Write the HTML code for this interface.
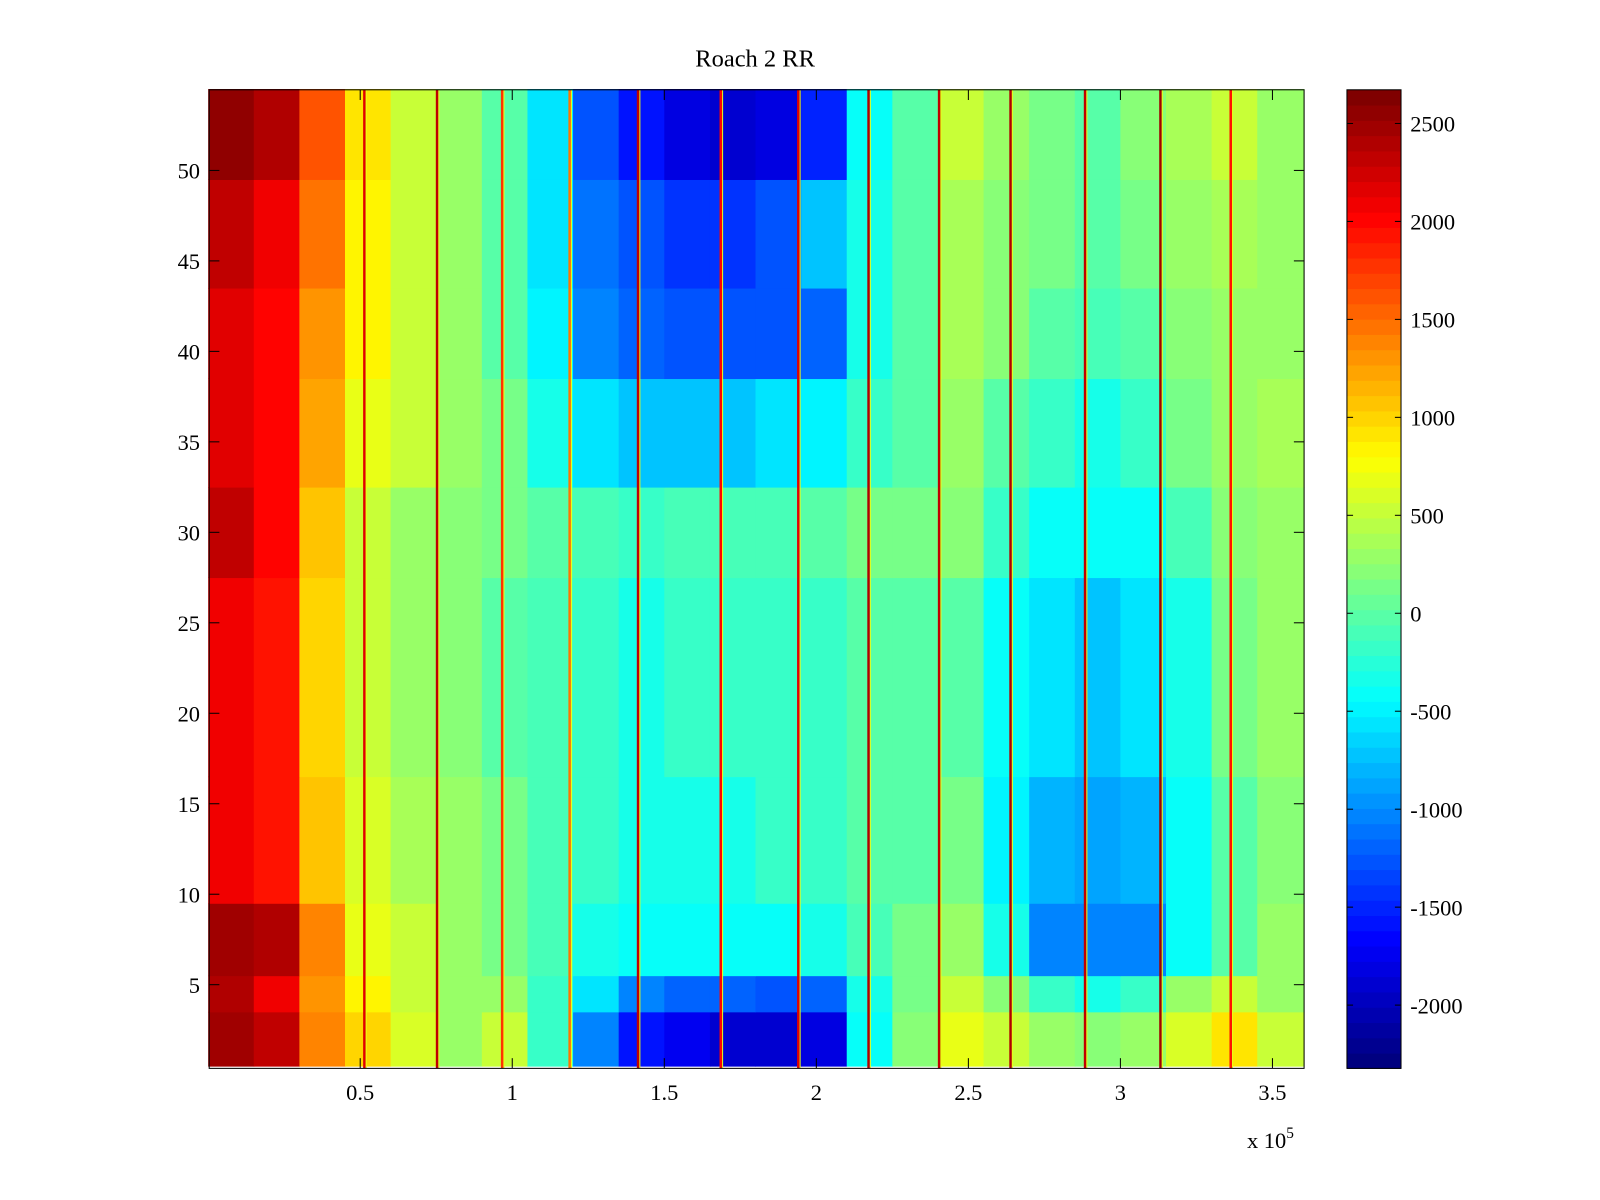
<!DOCTYPE html>
<html><head><meta charset="utf-8"><style>
body{margin:0;background:#fff;}
svg{display:block;}
svg text{font-family:"Liberation Serif",serif;fill:#000;}
</style></head><body>
<svg id="chart" width="1600" height="1200" viewBox="0 0 1568 1176" xmlns="http://www.w3.org/2000/svg">
<text x="740" y="65" font-size="24" text-anchor="middle">Roach 2 RR</text>
<g id="cells"></g>
<g id="streaks"></g>
<rect x="205" y="88" width="1073" height="959" fill="none" stroke="#000" stroke-width="1"/>
<g id="axes"></g>
<g id="cbar"></g>
<text x="1222" y="1125" font-size="22">x 10<tspan dy="-10" font-size="15">5</tspan></text>
</svg>
<script>
// x bins in units of 1e4 (bin edges)
const binEdges=[0,1.5,3,4.5,6,7.5,9,10.5,12,13.5,15,16.5,18,19.5,21,22.5,24,25.5,27,28.5,30,31.5,33,34.5,36.04];
// row groups [firstRow,lastRow]
const rowGroups=[[1,3],[4,5],[6,9],[10,16],[17,27],[28,32],[33,38],[39,43],[44,49],[50,54]];
const g0=[2500,2300,1400,1000,600,300,500,-200,-1000,-1600,-1700,-1900,-1900,-1800,-400,200,700,500,300,200,300,600,900,500];
const g1=[2400,2100,1300,800,500,300,300,-200,-600,-1000,-1200,-1200,-1300,-1200,-300,100,500,200,-200,-300,-200,300,500,300];
const g2=[2500,2400,1400,700,500,300,100,-100,-300,-400,-400,-400,-400,-300,-100,100,300,-300,-1000,-1000,-1000,-400,0,300];
const g3=[2100,1900,1100,600,400,300,100,-100,-200,-300,-300,-300,-200,-200,0,0,100,-500,-800,-900,-800,-400,0,200];
const g4=[2100,1900,1000,500,300,200,0,-100,-200,-300,-200,-200,-200,-200,0,0,0,-400,-600,-700,-600,-300,100,300];
const g5=[2300,2000,1100,500,300,200,100,0,-100,-200,-100,-100,-100,0,100,100,200,-200,-400,-400,-400,-100,200,300];
const g6=[2200,2000,1200,700,500,300,100,-300,-600,-700,-700,-700,-600,-500,-200,0,300,0,-200,-300,-200,100,300,400];
const g7=[2200,2000,1300,800,500,300,0,-500,-1000,-1200,-1300,-1300,-1300,-1200,-300,0,400,200,0,-100,0,200,300,300];
const g8=[2300,2100,1500,800,500,300,0,-600,-1100,-1300,-1400,-1400,-1300,-700,-300,0,400,200,100,0,100,300,400,300];
const g9=[2550,2400,1600,900,500,300,0,-600,-1300,-1600,-1800,-1900,-1800,-1500,-400,0,500,300,100,0,200,400,500,300];
const groupValues=[g0,g1,g2,g3,g4,g5,g6,g7,g8,g9];
// streak positions (x in 1e4 units) and values
const streakX=[5.13,7.52,9.66,11.88,14.13,16.85,19.4,21.71,24.03,26.38,28.83,31.31,33.62];
const streakV=[2200,2300,1800,1500,2300,2000,2200,2400,2300,2400,2300,2500,1900];
const xTicks=[0.5,1,1.5,2,2.5,3,3.5];
const yTicks=[5,10,15,20,25,30,35,40,45,50];
const cTicks=[2500,2000,1500,1000,500,0,-500,-1000,-1500,-2000];
const cMin=-2323,cMax=2672;

const NS="http://www.w3.org/2000/svg";
const X=v=>204+v*29.8;            // v in 1e4
const Y=r=>965-(r-5)*17.733;       // row units
const CY=v=>121+(2500-v)*0.192;
function jet(v){
  let t=(v-cMin)/(cMax-cMin);t=Math.max(0,Math.min(1,t));
  t=Math.floor(t*63.999)/63;
  const c=x=>Math.round(255*Math.max(0,Math.min(1,x)));
  return `rgb(${c(1.5-Math.abs(4*t-3))},${c(1.5-Math.abs(4*t-2))},${c(1.5-Math.abs(4*t-1))})`;
}
function mk(tag,attrs,parent){const e=document.createElementNS(NS,tag);for(const k in attrs)e.setAttribute(k,attrs[k]);parent.appendChild(e);return e;}
const cells=document.getElementById('cells');
rowGroups.forEach((g,gi)=>{
  const vals=groupValues[gi];
  for(let b=0;b<vals.length;b++){
    const x0=X(binEdges[b]),x1=X(binEdges[b+1]);
    const y0=Y(g[1]+0.5),y1=Y(g[0]-0.5);
    const r=mk('rect',{x:x0,y:y0,width:x1-x0+0.5,height:y1-y0+0.5,fill:jet(vals[b])},cells);
    
    
  }
});
const st=document.getElementById('streaks');
streakX.forEach((sx,i)=>{
  const l=mk('rect',{x:X(sx)-1,y:88,width:2.5,height:959,fill:jet(streakV[i])},st);
  
  
  const l2=mk('rect',{x:X(sx)+1.5,y:88,width:1,height:959,fill:jet(700)},st);
  
  
});
const ax=document.getElementById('axes');
xTicks.forEach(t=>{
  const x=X(t*10);
  mk('line',{x1:x,y1:1047,x2:x,y2:1037,stroke:'#000'},ax);
  mk('line',{x1:x,y1:88,x2:x,y2:98,stroke:'#000'},ax);
  const tx=mk('text',{x:x,y:1078,'font-size':22,'text-anchor':'middle'},ax);tx.textContent=t;
  
  
});
yTicks.forEach(t=>{
  const y=Y(t);
  mk('line',{x1:205,y1:y,x2:215,y2:y,stroke:'#000'},ax);
  mk('line',{x1:1278,y1:y,x2:1268,y2:y,stroke:'#000'},ax);
  const tx=mk('text',{x:196,y:y+8,'font-size':22,'text-anchor':'end'},ax);tx.textContent=t;
  
  
});
const cb=document.getElementById('cbar');
for(let i=0;i<64;i++){
  const v0=cMin+(cMax-cMin)*i/64,v1=cMin+(cMax-cMin)*(i+1)/64;
  const y0=CY(v1),y1=CY(v0);
  const r=mk('rect',{x:1320,y:y0,width:53,height:y1-y0+0.5,fill:jet((v0+v1)/2)},cb);
  
  
}
mk('rect',{x:1320,y:88,width:53,height:959,fill:'none',stroke:'#000'},cb);
cTicks.forEach(t=>{
  const y=CY(t);
  mk('line',{x1:1320,y1:y,x2:1326,y2:y,stroke:'#000'},cb);
  mk('line',{x1:1373,y1:y,x2:1367,y2:y,stroke:'#000'},cb);
  const tx=mk('text',{x:1382,y:y+8,'font-size':22},cb);tx.textContent=t;
  
  
});
</script>
</body></html>
